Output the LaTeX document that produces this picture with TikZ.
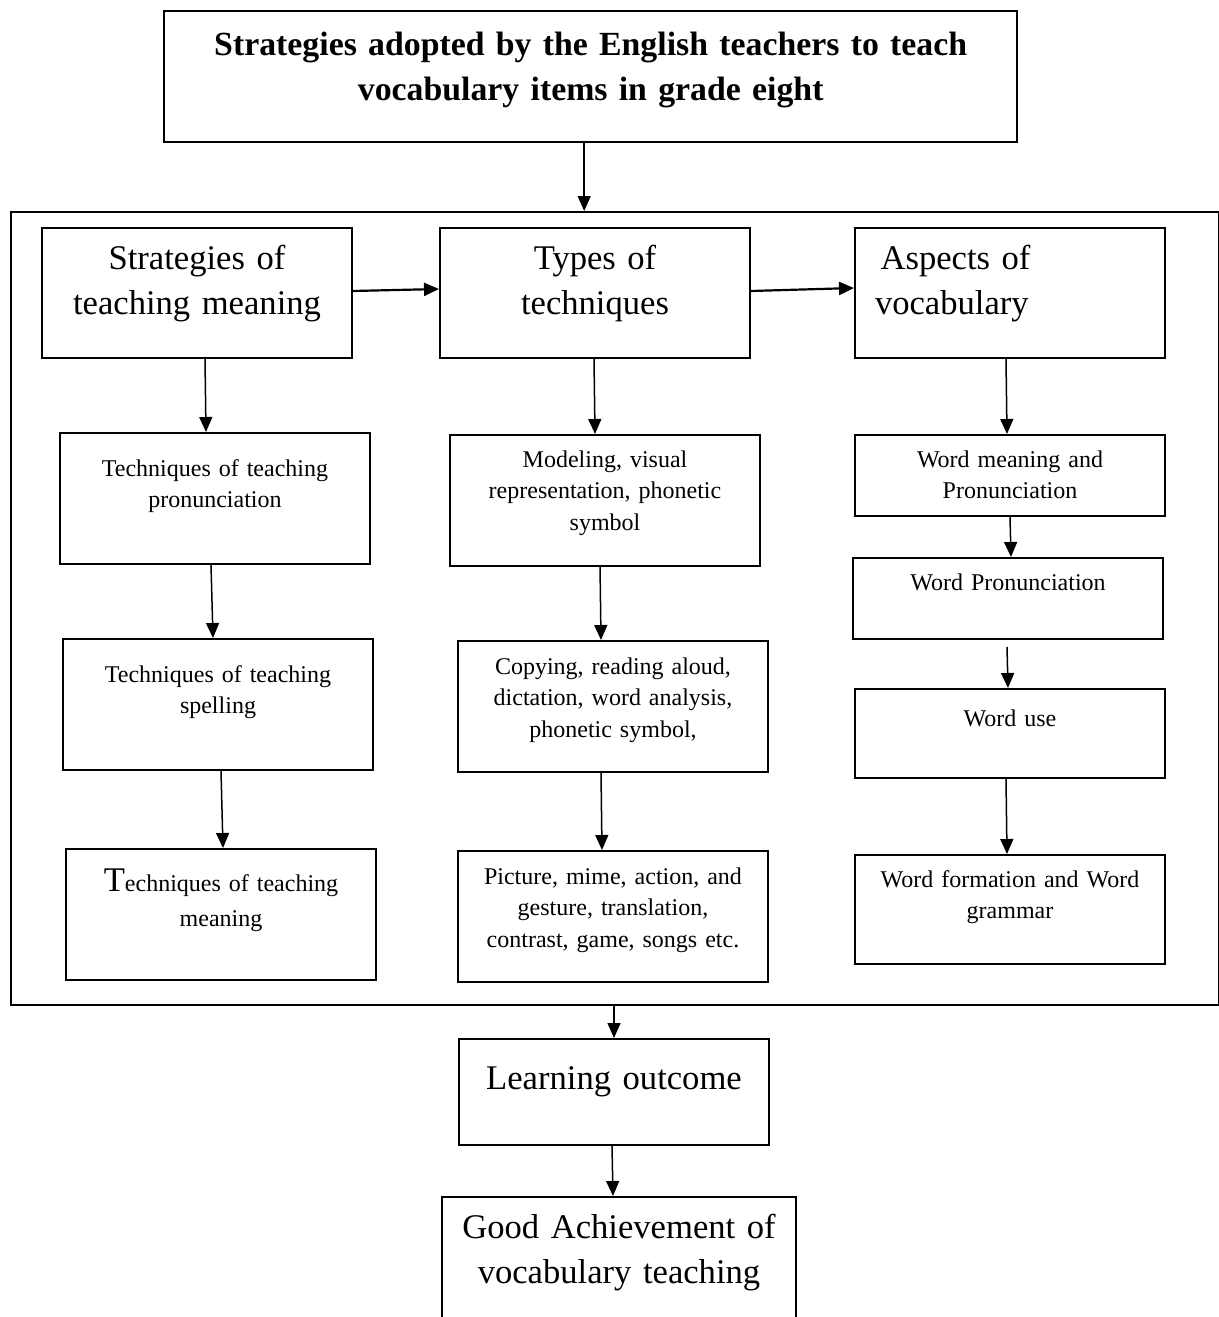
\documentclass[tikz,border=0pt]{standalone}
\usepackage{fontspec}
\setmainfont{Liberation Serif}
\usetikzlibrary{arrows.meta,positioning}
\tikzset{
  base/.style={draw=black,line width=1pt,inner sep=0pt,align=center,anchor=north west,text width=155pt},
  title/.style={base,line width=1.2pt,font=\fontsize{16.9}{22.5}\selectfont\bfseries,text width=426.5pt},
  head/.style={base,font=\fontsize{17.3}{22.5}\selectfont},
  item/.style={base,font=\fontsize{12}{15.75}\selectfont},
  frame/.style={draw=black,line width=1.2pt,inner sep=0pt,anchor=north west,minimum width=604pt,minimum height=396.5pt},
  flow/.style={-{Triangle[length=7.5pt,width=6.5pt]},line width=0.75pt},
  side/.style={flow,line width=1.1pt}
}

\begin{document}
\begin{tikzpicture}[x=0.5pt,y=-0.5pt]
\useasboundingbox (0,0) rectangle (1219,1317);
\clip (0,0) rectangle (1219,1317);

% top box and outer frame
\node[title,text height=22pt,text depth=43.5pt] (goal) at (163,10) {Strategies adopted by the English teachers to teach\\vocabulary items in grade eight};
\node[frame] (frame) at (10,211) {};

% first row
\node[head,text height=20.5pt,text depth=44.5pt] (strat) at (41,227) {Strategies of\\teaching meaning};
\node[head,text height=20.5pt,text depth=44.5pt] (types) at (439,227) {Types of\\techniques};
\node[head,align=left,inner xsep=10pt,text width=135pt,text height=20.5pt,text depth=44.5pt] (aspects) at (854,227) {\hspace*{2.8pt}Aspects of\\vocabulary};

% left column
\node[item,text height=21.5pt,text depth=44pt] (pron) at (59,432) {Techniques of teaching\\pronunciation};
\node[item,text height=21.5pt,text depth=44pt] (spell) at (62,638) {Techniques of teaching\\spelling};
\node[item,text height=21pt,text depth=44.5pt] (mean) at (65,848) {{\fontsize{17.3}{15.75}\selectfont T}echniques of teaching\\[2pt]meaning};

% middle column
\node[item,text height=16pt,text depth=49.5pt] (model) at (449,434) {Modeling, visual\\representation, phonetic\\symbol};
\node[item,text height=16.5pt,text depth=49pt] (copy) at (457,640) {Copying, reading aloud,\\dictation, word analysis,\\phonetic symbol,};
\node[item,text height=16.5pt,text depth=49pt] (picture) at (457,850) {Picture, mime, action, and\\gesture, translation,\\contrast, game, songs etc.};

% right column
\node[item,text height=16pt,text depth=24.5pt] (wordmean) at (854,434) {Word meaning and\\Pronunciation};
\node[item,text height=16pt,text depth=24.5pt] (wordpron) at (852,557) {Word Pronunciation};
\node[item,text height=18.5pt,text depth=26pt] (worduse) at (854,688) {Word use};
\node[item,text height=16pt,text depth=38.5pt] (wordform) at (854,854) {Word formation and Word\\grammar};

% bottom
\node[head,text height=25pt,text depth=28pt] (outcome) at (458,1038) {Learning outcome};
\node[head,text width=177pt,text height=20.5pt,text depth=54.5pt] (achieve) at (441,1196) {Good Achievement of\\vocabulary teaching};

\draw[flow] ([xshift=-3.25pt]goal.south) -- ([xshift=-3.25pt]goal.south |- frame.north);
\draw[side] ([yshift=1pt]strat.east) -- ([yshift=2pt]types.west);
\draw[side] ([yshift=1pt]types.east) -- ([yshift=2.5pt]aspects.west);
\draw[flow] ([xshift=4pt]strat.south) -- ([xshift=-4.5pt]pron.north);
\draw[flow] ([xshift=-2pt]pron.south) -- ([xshift=-2.5pt]spell.north);
\draw[flow] ([xshift=1.5pt]spell.south) -- ([xshift=1pt]mean.north);
\draw[flow] ([xshift=-0.5pt]types.south) -- ([xshift=-5pt]model.north);
\draw[flow] ([xshift=-2.5pt,yshift=1pt]model.south) -- ([xshift=-6pt]copy.north);
\draw[flow] ([xshift=-6pt]copy.south) -- ([xshift=-5.5pt]picture.north);
\draw[flow] ([xshift=-2pt]aspects.south) -- ([xshift=-1.5pt]wordmean.north);
\draw[flow] (wordmean.south) -- ([xshift=1.5pt]wordpron.north);
\draw[flow] ([xshift=-0.5pt,yshift=-3.5pt]wordpron.south) -- ([xshift=-1pt]worduse.north);
\draw[flow] ([xshift=-2pt]worduse.south) -- ([xshift=-1.5pt]wordform.north);
\draw[flow] (outcome.north |- frame.south) -- (outcome.north);
\draw[flow] ([xshift=-1pt]outcome.south) -- ([xshift=-3pt]achieve.north);
\end{tikzpicture}
\end{document}
